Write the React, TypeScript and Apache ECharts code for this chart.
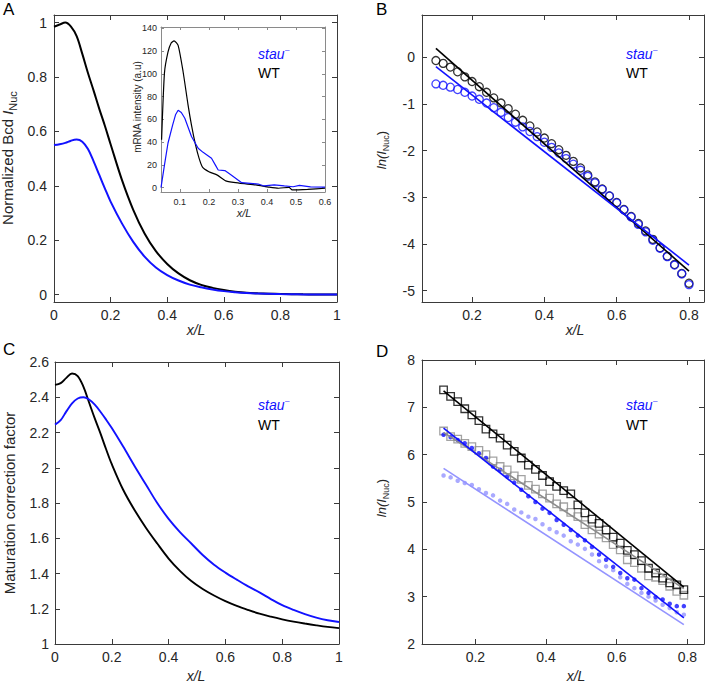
import React, { useEffect, useRef } from "react";
import * as echarts from "echarts";

const FONT = "'Liberation Sans', Arial, Helvetica, sans-serif";
const BLUE = "#1212ff";
const LIGHT_BLUE = "#9494ff";
const GRAY = "#8c8c8c";
const AXIS = "#3a3a3a";
const INSET_AXIS = "#8a8a8a";
const LABEL = "#262626";

// ---------- Panels A and C share this position grid ----------
const profX = [0, 0.02, 0.04, 0.06, 0.08, 0.1, 0.12, 0.14, 0.16, 0.18, 0.2, 0.24, 0.28, 0.32, 0.36, 0.4, 0.44, 0.48, 0.52, 0.56, 0.6, 0.64, 0.68, 0.72, 0.76, 0.8, 0.84, 0.88, 0.92, 0.96, 1.0];

// ---------- Panel A: normalized Bcd ----------
const aWtY = [0.985, 0.993, 1.0, 0.985, 0.95, 0.885, 0.815, 0.75, 0.683, 0.62, 0.553, 0.422, 0.312, 0.225, 0.16, 0.113, 0.078, 0.053, 0.036, 0.025, 0.017, 0.011, 0.007, 0.005, 0.0035, 0.0025, 0.0018, 0.0012, 0.0008, 0.0005, 0.0003];
const aStY = [0.55, 0.553, 0.558, 0.566, 0.57, 0.562, 0.535, 0.49, 0.44, 0.39, 0.342, 0.262, 0.194, 0.14, 0.1, 0.072, 0.052, 0.037, 0.027, 0.019, 0.013, 0.009, 0.006, 0.004, 0.003, 0.002, 0.0015, 0.001, 0.0007, 0.0005, 0.0003];
const aXTicks = [0, 0.2, 0.4, 0.6, 0.8, 1];
const aYTicks = [0, 0.2, 0.4, 0.6, 0.8, 1];

// ---------- Panel A inset: mRNA intensity ----------
const inWtX = [0.037, 0.047, 0.059, 0.07, 0.08, 0.094, 0.111, 0.128, 0.14, 0.154, 0.166, 0.178, 0.2, 0.229, 0.258, 0.304, 0.362, 0.408, 0.44, 0.476, 0.487, 0.54, 0.6];
const inWtY = [42, 101, 119, 127, 129, 125, 102, 73, 55, 37.5, 26, 18, 14, 11, 6, 4, 2.4, 0.4, -0.5, 0.3, -2, -1.5, -0.5];
const inStX = [0.035, 0.047, 0.059, 0.075, 0.085, 0.094, 0.105, 0.117, 0.14, 0.163, 0.18, 0.192, 0.209, 0.222, 0.232, 0.255, 0.278, 0.313, 0.37, 0.39, 0.425, 0.46, 0.49, 0.512, 0.55, 0.6];
const inStY = [0, 20, 39, 55, 64, 68, 66, 61, 45, 34.6, 31, 29, 25.8, 20, 15.5, 15, 11, 4.4, 3.2, 1.5, 2.4, 1.5, 0.8, 2, 0.7, 0.4];
const inXTicks = [0.1, 0.2, 0.3, 0.4, 0.5, 0.6];
const inYTicks = [0, 20, 40, 60, 80, 100, 120, 140];

// ---------- Panel B: ln(I_Nuc) ----------
const bX = [0.1, 0.12, 0.14, 0.16, 0.18, 0.2, 0.22, 0.24, 0.26, 0.28, 0.3, 0.32, 0.34, 0.36, 0.38, 0.4, 0.42, 0.44, 0.46, 0.48, 0.5, 0.52, 0.54, 0.56, 0.58, 0.6, 0.62, 0.64, 0.66, 0.68, 0.7, 0.72, 0.74, 0.76, 0.78, 0.8];
const bWt = [-0.07, -0.13, -0.21, -0.31, -0.42, -0.52, -0.63, -0.75, -0.87, -0.98, -1.1, -1.22, -1.35, -1.47, -1.6, -1.73, -1.85, -1.98, -2.1, -2.23, -2.37, -2.52, -2.67, -2.82, -2.97, -3.11, -3.26, -3.41, -3.56, -3.72, -3.9, -4.08, -4.26, -4.44, -4.63, -4.84];
const bSt = [-0.57, -0.6, -0.64, -0.69, -0.75, -0.83, -0.9, -0.98, -1.08, -1.18, -1.29, -1.39, -1.49, -1.59, -1.7, -1.82, -1.93, -2.05, -2.17, -2.29, -2.42, -2.55, -2.69, -2.83, -2.97, -3.12, -3.27, -3.42, -3.58, -3.74, -3.92, -4.09, -4.27, -4.45, -4.64, -4.87];
const bFitX = [0.1, 0.8];
const bWtFit = [0.19, -4.58];
const bStFit = [-0.2, -4.45];
const bXTicks = [0.2, 0.4, 0.6, 0.8];
const bYTicks = [-5, -4, -3, -2, -1, 0];

// ---------- Panel C: maturation correction factor ----------
const cWtY = [2.47, 2.48, 2.51, 2.535, 2.52, 2.46, 2.37, 2.28, 2.195, 2.105, 2.02, 1.875, 1.76, 1.66, 1.57, 1.485, 1.415, 1.357, 1.312, 1.275, 1.243, 1.216, 1.193, 1.172, 1.155, 1.14, 1.127, 1.116, 1.106, 1.097, 1.09];
const cStY = [2.245, 2.27, 2.32, 2.365, 2.393, 2.4, 2.387, 2.358, 2.318, 2.273, 2.225, 2.12, 2.01, 1.905, 1.8, 1.71, 1.635, 1.57, 1.505, 1.45, 1.405, 1.365, 1.327, 1.293, 1.255, 1.22, 1.193, 1.17, 1.15, 1.135, 1.125];
const cXTicks = [0, 0.2, 0.4, 0.6, 0.8, 1];
const cYTicks = [1, 1.2, 1.4, 1.6, 1.8, 2, 2.2, 2.4, 2.6];

// ---------- Panel D: ln(I_Nuc) ----------
const dX = [0.11, 0.13, 0.15, 0.17, 0.19, 0.21, 0.23, 0.25, 0.27, 0.29, 0.31, 0.33, 0.35, 0.37, 0.39, 0.41, 0.43, 0.45, 0.47, 0.49, 0.51, 0.53, 0.55, 0.57, 0.59, 0.61, 0.63, 0.65, 0.67, 0.69, 0.71, 0.73, 0.75, 0.77, 0.79];
const dWt = [7.37, 7.23, 7.12, 6.97, 6.84, 6.72, 6.54, 6.44, 6.35, 6.2, 6.07, 5.93, 5.78, 5.69, 5.56, 5.43, 5.33, 5.24, 5.17, 4.94, 4.77, 4.64, 4.55, 4.41, 4.26, 4.13, 3.98, 3.89, 3.76, 3.6, 3.5, 3.39, 3.29, 3.25, 3.15];
const dWtGray = [6.5, 6.38, 6.33, 6.24, 6.17, 6.09, 6.0, 5.87, 5.75, 5.68, 5.55, 5.48, 5.35, 5.27, 5.17, 5.08, 4.96, 4.9, 4.78, 4.69, 4.52, 4.41, 4.32, 4.24, 4.1, 3.99, 3.78, 3.72, 3.6, 3.44, 3.41, 3.34, 3.22, 3.11, 3.03];
const dSt = [6.42, 6.37, 6.31, 6.24, 6.14, 6.03, 5.93, 5.75, 5.68, 5.54, 5.41, 5.26, 5.12, 5.0, 4.86, 4.77, 4.62, 4.52, 4.41, 4.29, 4.19, 4.05, 3.89, 3.78, 3.63, 3.5, 3.39, 3.36, 3.18, 3.08, 2.99, 2.94, 2.85, 2.8, 2.8];
const dStLight = [5.56, 5.52, 5.45, 5.4, 5.36, 5.27, 5.19, 5.14, 5.03, 4.96, 4.84, 4.78, 4.69, 4.64, 4.53, 4.43, 4.36, 4.29, 4.17, 4.1, 4.01, 3.89, 3.75, 3.64, 3.56, 3.41, 3.27, 3.18, 3.08, 3.0, 2.92, 2.83, 2.76, 2.67, 2.62];
const dFitX = [0.11, 0.79];
const dWtFit = [7.35, 3.2];
const dWtGrayFit = [6.47, 3.17];
const dStFit = [6.56, 2.55];
const dStLightFit = [5.71, 2.41];
const dXTicks = [0.2, 0.4, 0.6, 0.8];
const dYTicks = [2, 3, 4, 5, 6, 7, 8];

const zip = (xs: number[], ys: number[]) => xs.map((x, i) => [x, ys[i]]);

function axisPair(
  kind: "x" | "y",
  gridIndex: number,
  min: number,
  max: number,
  ticks: number[],
  fontSize: number,
  margin: number,
  color: string = AXIS,
  tickLen: number = 5
) {
  const common: any = {
    type: "value",
    gridIndex,
    min,
    max,
    splitLine: { show: false },
    axisLine: { show: true, onZero: false, lineStyle: { color, width: 1 } },
    axisTick: { show: true, inside: true, length: tickLen, customValues: ticks, lineStyle: { color, width: 1 } },
  };
  const main = {
    ...common,
    position: kind === "x" ? "bottom" : "left",
    axisLabel: {
      show: true,
      customValues: ticks,
      fontSize,
      fontFamily: FONT,
      color: LABEL,
      margin,
      formatter: (v: number) => String(v),
    },
  };
  const opp = { ...common, position: kind === "x" ? "top" : "right", axisLabel: { show: false } };
  return [main, opp];
}

function txt(x: number, y: number, text: string, o: any = {}) {
  const style: any = {
    text,
    fontSize: o.size ?? 14,
    fontFamily: FONT,
    fontStyle: o.italic ? "italic" : "normal",
    fill: o.color ?? "#000",
    align: o.align ?? "left",
    verticalAlign: o.valign ?? "middle",
    textAlign: o.align ?? "left",
    textVerticalAlign: o.valign ?? "middle",
  };
  if (o.rich) style.rich = o.rich;
  return { type: "text", x, y, rotation: o.rot ?? 0, z: 100, silent: true, style };
}

const richBase = (size: number) => ({
  n: { fontSize: size, fontFamily: FONT, fill: LABEL, color: LABEL, lineHeight: size + 3, verticalAlign: "top" },
  i: { fontSize: size, fontFamily: FONT, fontStyle: "italic", fill: LABEL, color: LABEL, lineHeight: size + 3, verticalAlign: "top" },
  s: { fontSize: Math.round(size * 0.72), fontFamily: FONT, fill: LABEL, color: LABEL, lineHeight: size, padding: [Math.round(size * 0.45), 0, 0, 0], verticalAlign: "top" },
});

function legend(x: number, y1: number, y2: number) {
  return [
    txt(x, y1, "stau", { size: 14, italic: true, color: BLUE }),
    txt(x + 27, y1 - 5, "\u2012", { size: 8, color: BLUE }),
    txt(x, y2, "WT", { size: 14, color: "#000" }),
  ];
}

export default function App() {
  const ref = useRef<HTMLDivElement>(null);
  useEffect(() => {
    if (!ref.current) return;
    const chart = echarts.init(ref.current, undefined, { renderer: "svg" });

    const grids = [
      { left: 54, top: 15, width: 283, height: 287 },
      { left: 161, top: 27, width: 164, height: 165 },
      { left: 422, top: 15, width: 282, height: 287 },
      { left: 55, top: 362, width: 284, height: 282 },
      { left: 422, top: 360, width: 282, height: 284 },
    ].map((g) => ({ ...g, containLabel: false, show: false }));

    const xAxis = [
      ...axisPair("x", 0, 0, 1, aXTicks, 14, 6),
      ...axisPair("x", 1, 0.035, 0.6, inXTicks, 9, 5, INSET_AXIS, 3),
      ...axisPair("x", 2, 0.0615, 0.8415, bXTicks, 14, 6),
      ...axisPair("x", 3, 0, 1, cXTicks, 14, 6),
      ...axisPair("x", 4, 0.049, 0.847, dXTicks, 14, 6),
    ];
    const yAxis = [
      ...axisPair("y", 0, -0.027, 1.028, aYTicks, 14, 7),
      ...axisPair("y", 1, -3.8, 141.1, inYTicks, 9, 4, INSET_AXIS, 3),
      ...axisPair("y", 2, -5.242, 0.906, bYTicks, 14, 7),
      ...axisPair("y", 3, 1, 2.6, cYTicks, 14, 6),
      ...axisPair("y", 4, 2, 8, dYTicks, 14, 7),
    ];

    const line = (g: number, data: number[][], color: string, width: number, smooth: number | boolean = 0.35, z = 3) => ({
      type: "line",
      xAxisIndex: 2 * g,
      yAxisIndex: 2 * g,
      data,
      smooth,
      symbol: "none",
      z,
      lineStyle: { color, width },
      itemStyle: { color },
    });
    const scatter = (g: number, data: number[][], symbol: string, size: number, color: string, hollow: boolean, z = 2) => ({
      type: "scatter",
      xAxisIndex: 2 * g,
      yAxisIndex: 2 * g,
      data,
      symbol,
      symbolSize: size,
      z,
      itemStyle: hollow
        ? { color: "rgba(0,0,0,0)", borderColor: color, borderWidth: 1.3 }
        : { color, borderWidth: 0 },
    });

    const series: any[] = [
      // A
      line(0, zip(profX, aWtY), "#000", 2),
      line(0, zip(profX, aStY), BLUE, 2),
      // inset
      line(1, zip(inWtX, inWtY), "#000", 1.2, 0.2),
      line(1, zip(inStX, inStY), BLUE, 1.2, false),
      // B
      scatter(2, zip(bX, bWt), "circle", 8, "#000", true),
      scatter(2, zip(bX, bSt), "circle", 8, BLUE, true),
      line(2, zip(bFitX, bWtFit), "#000", 1.6, false),
      line(2, zip(bFitX, bStFit), BLUE, 1.6, false),
      // C
      line(3, zip(profX, cWtY), "#000", 1.9),
      line(3, zip(profX, cStY), BLUE, 1.9),
      // D
      scatter(4, zip(dX, dWtGray), "rect", 7.5, GRAY, true),
      scatter(4, zip(dX, dStLight), "circle", 4.5, LIGHT_BLUE, false),
      line(4, zip(dFitX, dStLightFit), LIGHT_BLUE, 1.6, false),
      line(4, zip(dFitX, dWtGrayFit), GRAY, 1.6, false),
      scatter(4, zip(dX, dSt), "circle", 4.5, BLUE, false),
      line(4, zip(dFitX, dStFit), BLUE, 1.6, false),
      scatter(4, zip(dX, dWt), "rect", 7.5, "#000", true),
      line(4, zip(dFitX, dWtFit), "#000", 1.6, false),
    ];

    const rb15 = richBase(15);
    const rb13 = richBase(13);
    const graphic: any[] = [
      // panel letters
      txt(3, 9, "A", { size: 17 }),
      txt(376, 9, "B", { size: 17 }),
      txt(3, 349, "C", { size: 17 }),
      txt(376, 351, "D", { size: 17 }),
      // legends
      ...legend(258, 54, 73),
      ...legend(626, 54, 73),
      ...legend(258, 405, 425),
      ...legend(626, 405, 425),
      // x titles
      txt(196, 330, "x/L", { size: 14, italic: true, align: "center", color: LABEL }),
      txt(575, 330, "x/L", { size: 14, italic: true, align: "center", color: LABEL }),
      txt(196, 676, "x/L", { size: 14, italic: true, align: "center", color: LABEL }),
      txt(576, 676, "x/L", { size: 14, italic: true, align: "center", color: LABEL }),
      txt(244, 213, "x/L", { size: 11, italic: true, align: "center", color: LABEL }),
      // y titles
      txt(9, 158, "{n|Normalized Bcd }{i|I}{s|Nuc}", { rich: rb15, align: "center", rot: Math.PI / 2 }),
      txt(9, 503, "Maturation correction factor", { size: 15, align: "center", rot: Math.PI / 2, color: LABEL }),
      txt(137, 107, "mRNA intensity (a.u)", { size: 10, align: "center", rot: Math.PI / 2, color: LABEL }),
      txt(383, 150, "{i|ln(I}{s|Nuc}{n|)}", { rich: rb13, align: "center", rot: Math.PI / 2 }),
      txt(383, 498, "{i|ln(I}{s|Nuc}{n|)}", { rich: rb13, align: "center", rot: Math.PI / 2 }),
    ];

    chart.setOption({
      animation: false,
      backgroundColor: "#fff",
      textStyle: { fontFamily: FONT },
      grid: grids,
      xAxis,
      yAxis,
      series,
      graphic,
    });
    return () => chart.dispose();
  }, []);

  return (
    <div
      ref={ref}
      style={{ position: "fixed", left: 0, top: 0, width: 708, height: 685, background: "#fff" }}
    />
  );
}
